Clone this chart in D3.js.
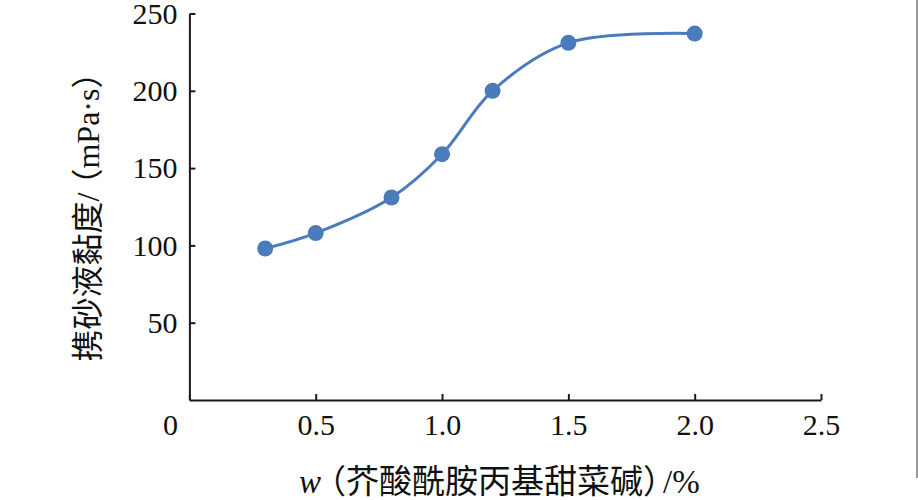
<!DOCTYPE html>
<html>
<head>
<meta charset="utf-8">
<script src="https://cdn.jsdelivr.net/npm/d3@7"></script>
<style>
  html, body { margin: 0; padding: 0; background: #ffffff; }
  svg { display: block; }
  .lbl { font-family: "Liberation Serif", "DejaVu Serif", "Noto Sans CJK SC", serif; }
</style>
</head>
<body>
<svg id="chart" width="918" height="500"></svg>
<script>
// data
const dosage    = [0.3, 0.5, 0.8, 1.0, 1.2, 1.5, 2.0];   // w, %
const viscosity = [98, 108, 131, 159, 200, 231, 237];    // mPa·s
const xTicks    = [0, 0.5, 1.0, 1.5, 2.0, 2.5];
const yTicks    = [50, 100, 150, 200, 250];

const plotL = 189.4, plotR = 821, plotT = 13.5, plotB = 400;
const lineClr = "#4a7cbc";

const svg = d3.select("#chart");

const x = d3.scaleLinear().domain([0, 2.5]).range([plotL, plotR]);
const y = d3.scaleLinear().domain([0, 250]).range([plotB, plotT]);

// x axis, ticks pointing inward
const gx = svg.append("g")
    .attr("transform", "translate(0," + plotB + ")")
    .call(d3.axisBottom(x)
        .tickValues(xTicks)
        .tickSize(-6)
        .tickSizeOuter(0)
        .tickPadding(14)
        .tickFormat(d => d === 0 ? "0" : d3.format(".1f")(d)));

// y axis, ticks pointing inward
const gy = svg.append("g")
    .attr("transform", "translate(" + plotL + ",0)")
    .call(d3.axisLeft(y)
        .tickValues(yTicks)
        .tickSize(-6)
        .tickSizeOuter(0)
        .tickPadding(12));

[gx, gy].forEach(g => {
    g.attr("font-family", null).attr("font-size", null);
    g.select(".domain").attr("stroke", "#1a1a1a").attr("stroke-width", 2);
    g.selectAll(".tick line").attr("stroke", "#1a1a1a").attr("stroke-width", 2);
    g.selectAll("text")
        .attr("class", "lbl")
        .attr("fill", "#111")
        .style("font-size", "30px");
});

// origin label sits right-aligned under the y labels
gx.selectAll(".tick").filter(d => d === 0).select("text")
    .attr("text-anchor", "end")
    .attr("x", -12);

// the smooth line
const line = d3.line()
    .x((d, i) => x(dosage[i]))
    .y(d => y(d))
    .curve(d3.curveCatmullRom.alpha(0.5));

svg.append("path")
    .datum(viscosity)
    .attr("d", line)
    .attr("fill", "none")
    .attr("stroke", lineClr)
    .attr("stroke-width", 3);

svg.append("g").selectAll("circle")
    .data(viscosity)
    .enter()
        .append("circle")
            .attr("cx", (d, i) => x(dosage[i]))
            .attr("cy", d => y(d))
            .attr("r", 8)
            .attr("fill", lineClr);

// axis titles -- full width brackets pulled in a bit
const xt = svg.append("text")
    .attr("class", "lbl")
    .attr("x", 299)
    .attr("y", 493)
    .attr("fill", "#111")
    .style("font-size", "33px");
xt.append("tspan").style("font-style", "italic").text("w");
xt.append("tspan").attr("dx", -8).text("（芥酸酰胺丙基甜菜碱）");
xt.append("tspan").attr("dx", -13).text("/%");

const yt = svg.append("text")
    .attr("class", "lbl")
    .attr("transform", "translate(99,209) rotate(-90)")
    .attr("text-anchor", "middle")
    .attr("fill", "#111")
    .style("font-size", "32px");
yt.append("tspan").text("携砂液黏度/");
yt.append("tspan").attr("dx", -8).text("（mPa·s）");

// thin page edge at the right
svg.append("line")
    .attr("x1", 917).attr("x2", 917)
    .attr("y1", 0).attr("y2", 478)
    .attr("stroke", "#777")
    .attr("stroke-width", 1.5);
</script>
</body>
</html>
